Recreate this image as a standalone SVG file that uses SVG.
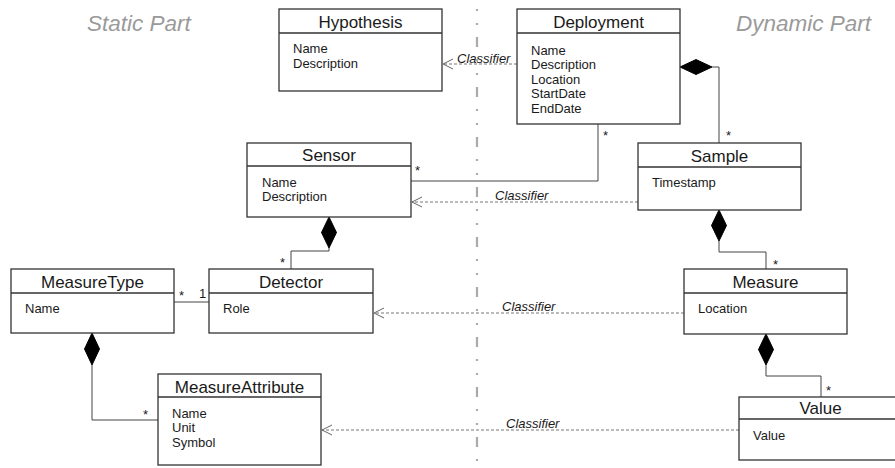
<svg xmlns="http://www.w3.org/2000/svg" width="895" height="468" viewBox="0 0 895 468">
<style>
.box{fill:#fff;stroke:#333;stroke-width:1.3}
.hd{stroke:#333;stroke-width:1.3}
.t{font-family:"Liberation Sans",Arial,sans-serif;font-size:17px;fill:#1a1a1a;text-anchor:middle}
.a{font-family:"Liberation Sans",Arial,sans-serif;font-size:13px;fill:#1a1a1a}
.c{font-family:"Liberation Sans",Arial,sans-serif;font-size:13px;font-style:italic;fill:#1a1a1a}
.m{font-family:"Liberation Sans",Arial,sans-serif;font-size:13px;fill:#1a1a1a}
.part{font-family:"Liberation Sans",Arial,sans-serif;font-size:22.5px;font-style:italic;fill:#9a9a9a}
.ln{fill:none;stroke:#444;stroke-width:1}
.dash{fill:none;stroke:#777;stroke-width:1;stroke-dasharray:3 2}
.dia{fill:#000;stroke:#000;stroke-width:1}
</style>
<defs>
<marker id="open" viewBox="0 0 12 12" refX="11" refY="6" markerWidth="12" markerHeight="12" markerUnits="userSpaceOnUse" orient="auto">
<path d="M1,1 L11,6 L1,11" fill="none" stroke="#666" stroke-width="1"/>
</marker>
</defs>
<rect width="895" height="468" fill="#fff"/>
<g id="divider">
<line x1="477" y1="-13" x2="477" y2="468" stroke="#aaa" stroke-width="2.2" stroke-dasharray="10 12 2 12 2 12"/>
<text class="part" x="87" y="31">Static Part</text>
<text class="part" x="736" y="31">Dynamic Part</text>
</g>
<g id="connectors">
<path class="dash" d="M517,64 H443" marker-end="url(#open)"/>
<text class="c" x="457" y="62.5">Classifier</text>
<path class="dash" d="M638,202 H412" marker-end="url(#open)"/>
<text class="c" x="495" y="200">Classifier</text>
<path class="dash" d="M684,313 H374" marker-end="url(#open)"/>
<text class="c" x="502" y="310.5">Classifier</text>
<path class="dash" d="M739,430 H322" marker-end="url(#open)"/>
<text class="c" x="506" y="428">Classifier</text>
<path class="ln" d="M712,67 H719 V143"/>
<path class="dia" d="M680,67 L696,59.5 L712,67 L696,74.5 Z"/>
<text class="m" x="726" y="140">*</text>
<path class="ln" d="M598,124 V181 H411"/>
<text class="m" x="603" y="140">*</text>
<text class="m" x="415" y="175">*</text>
<path class="ln" d="M329,248 V251 H291 V269"/>
<path class="dia" d="M329,217 L336.5,232.5 L329,248 L321.5,232.5 Z"/>
<text class="m" x="280" y="267">*</text>
<path class="ln" d="M174,302 H209"/>
<text class="m" x="179" y="300">*</text>
<text class="m" x="199" y="298">1</text>
<path class="ln" d="M92,365 V420 H158"/>
<path class="dia" d="M92,333 L99.5,349 L92,365 L84.5,349 Z"/>
<text class="m" x="143" y="419">*</text>
<path class="ln" d="M719,241 V252 H766 V269"/>
<path class="dia" d="M719,210 L726.5,225.5 L719,241 L711.5,225.5 Z"/>
<text class="m" x="773" y="269">*</text>
<path class="ln" d="M766,365 V376 H821 V397"/>
<path class="dia" d="M766,334 L773.5,349.5 L766,365 L758.5,349.5 Z"/>
<text class="m" x="826" y="395">*</text>
</g>
<g id="hypothesis">
<rect class="box" x="279" y="9" width="163" height="82"/>
<line class="hd" x1="279" y1="33" x2="442" y2="33"/>
<text class="t" x="360.5" y="28">Hypothesis</text>
<text class="a" x="293" y="53">Name</text>
<text class="a" x="293" y="67.5">Description</text>
</g>
<g id="deployment">
<rect class="box" x="517" y="9" width="163" height="115"/>
<line class="hd" x1="517" y1="33" x2="680" y2="33"/>
<text class="t" x="598.5" y="28">Deployment</text>
<text class="a" x="531" y="54.5">Name</text>
<text class="a" x="531" y="69">Description</text>
<text class="a" x="531" y="83.5">Location</text>
<text class="a" x="531" y="98">StartDate</text>
<text class="a" x="531" y="112.5">EndDate</text>
</g>
<g id="sensor">
<rect class="box" x="247" y="143" width="164" height="74"/>
<line class="hd" x1="247" y1="166" x2="411" y2="166"/>
<text class="t" x="329" y="161">Sensor</text>
<text class="a" x="262" y="186.5">Name</text>
<text class="a" x="262" y="200.5">Description</text>
</g>
<g id="sample">
<rect class="box" x="638" y="143" width="163" height="67"/>
<line class="hd" x1="638" y1="167" x2="801" y2="167"/>
<text class="t" x="719.5" y="162">Sample</text>
<text class="a" x="652" y="186.5">Timestamp</text>
</g>
<g id="measuretype">
<rect class="box" x="11" y="269" width="163" height="64"/>
<line class="hd" x1="11" y1="293" x2="174" y2="293"/>
<text class="t" x="92.5" y="288">MeasureType</text>
<text class="a" x="25" y="312.5">Name</text>
</g>
<g id="detector">
<rect class="box" x="209" y="269" width="164" height="64"/>
<line class="hd" x1="209" y1="293" x2="373" y2="293"/>
<text class="t" x="291" y="288">Detector</text>
<text class="a" x="223" y="312.5">Role</text>
</g>
<g id="measure">
<rect class="box" x="684" y="269" width="163" height="65"/>
<line class="hd" x1="684" y1="293" x2="847" y2="293"/>
<text class="t" x="765.5" y="288">Measure</text>
<text class="a" x="698" y="312.5">Location</text>
</g>
<g id="measureattribute">
<rect class="box" x="158" y="374" width="163" height="91"/>
<line class="hd" x1="158" y1="397" x2="321" y2="397"/>
<text class="t" x="239.5" y="393">MeasureAttribute</text>
<text class="a" x="172" y="417.5">Name</text>
<text class="a" x="172" y="432">Unit</text>
<text class="a" x="172" y="446.5">Symbol</text>
</g>
<g id="value">
<rect class="box" x="739" y="397" width="163" height="63"/>
<line class="hd" x1="739" y1="419" x2="902" y2="419"/>
<text class="t" x="820.5" y="414">Value</text>
<text class="a" x="753" y="439.5">Value</text>
</g>
</svg>
